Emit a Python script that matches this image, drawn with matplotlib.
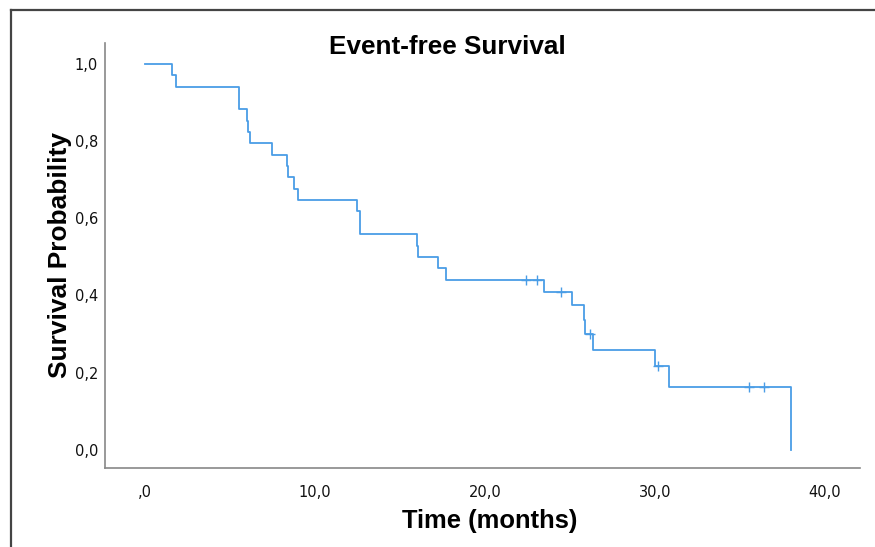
import matplotlib.pyplot as plt
from matplotlib.lines import Line2D

# Kaplan-Meier steps (months, survival)
event_times = [0, 1.57, 1.84, 5.55, 5.98, 6.08, 6.16, 7.49, 8.33, 8.42, 8.76, 8.98,
               12.45, 12.65, 15.98, 16.06, 17.24, 17.7, 23.47, 25.1, 25.8, 25.9,
               26.33, 30.0, 30.84, 37.98]
survival = [1.0, 0.971, 0.941, 0.882, 0.853, 0.824, 0.794, 0.765, 0.735, 0.706,
            0.676, 0.647, 0.618, 0.559, 0.529, 0.500, 0.471, 0.441, 0.410, 0.374,
            0.337, 0.301, 0.259, 0.218, 0.164, 0.0]

# censored cases
censor_times = [22.4, 23.04, 24.45, 26.15, 30.2, 35.5, 36.4]
censor_surv = [0.441, 0.441, 0.410, 0.301, 0.218, 0.164, 0.164]

x_ticks = [0, 10, 20, 30, 40]
x_labels = [',0', '10,0', '20,0', '30,0', '40,0']
y_ticks = [0, 0.2, 0.4, 0.6, 0.8, 1.0]
y_labels = ['0,0', '0,2', '0,4', '0,6', '0,8', '1,0']

line_col = '#4A9DE6'

fig = plt.figure(figsize=(8.75, 5.47), dpi=100)
ax = fig.add_axes([0.12, 0.1444, 0.863, 0.777])

ax.step(event_times, survival, where='post', color=line_col, lw=1.3)
ax.plot(censor_times, censor_surv, ls='none', marker='+', ms=7, mew=1.0, color=line_col)

ax.set_xlim(-2.35, 42.06)
ax.set_ylim(-0.047, 1.054)
ax.set_xticks(x_ticks)
ax.set_xticklabels(x_labels)
ax.set_yticks(y_ticks)
ax.set_yticklabels(y_labels)
ax.tick_params(length=0, labelsize=10.5, labelcolor='#111111')
ax.tick_params(axis='x', pad=12)
ax.tick_params(axis='y', pad=5)

for s in ['top', 'right']:
    ax.spines[s].set_visible(False)
for s in ['left', 'bottom']:
    ax.spines[s].set_color('#888888')
    ax.spines[s].set_linewidth(1.2)

bold = dict(family=['Liberation Sans', 'DejaVu Sans'], weight='bold')
fig.text(0.511, 0.9007, 'Event-free Survival', ha='center', va='baseline', fontsize=18.8, **bold)
fig.text(0.5597, 0.0353, 'Time (months)', ha='center', va='baseline', fontsize=18.4, **bold)
fig.text(0.0686, 0.5344, 'Survival Probability', ha='center', va='center', rotation=90, fontsize=18.9, **bold)

# outer frame (left + top only in the crop)
fig.add_artist(Line2D([0.0126, 0.0126], [0.0, 0.981], color='#444444', lw=1.6))
fig.add_artist(Line2D([0.0126, 1.0], [0.981, 0.981], color='#444444', lw=1.6))

fig.savefig('out.png', dpi=100)
